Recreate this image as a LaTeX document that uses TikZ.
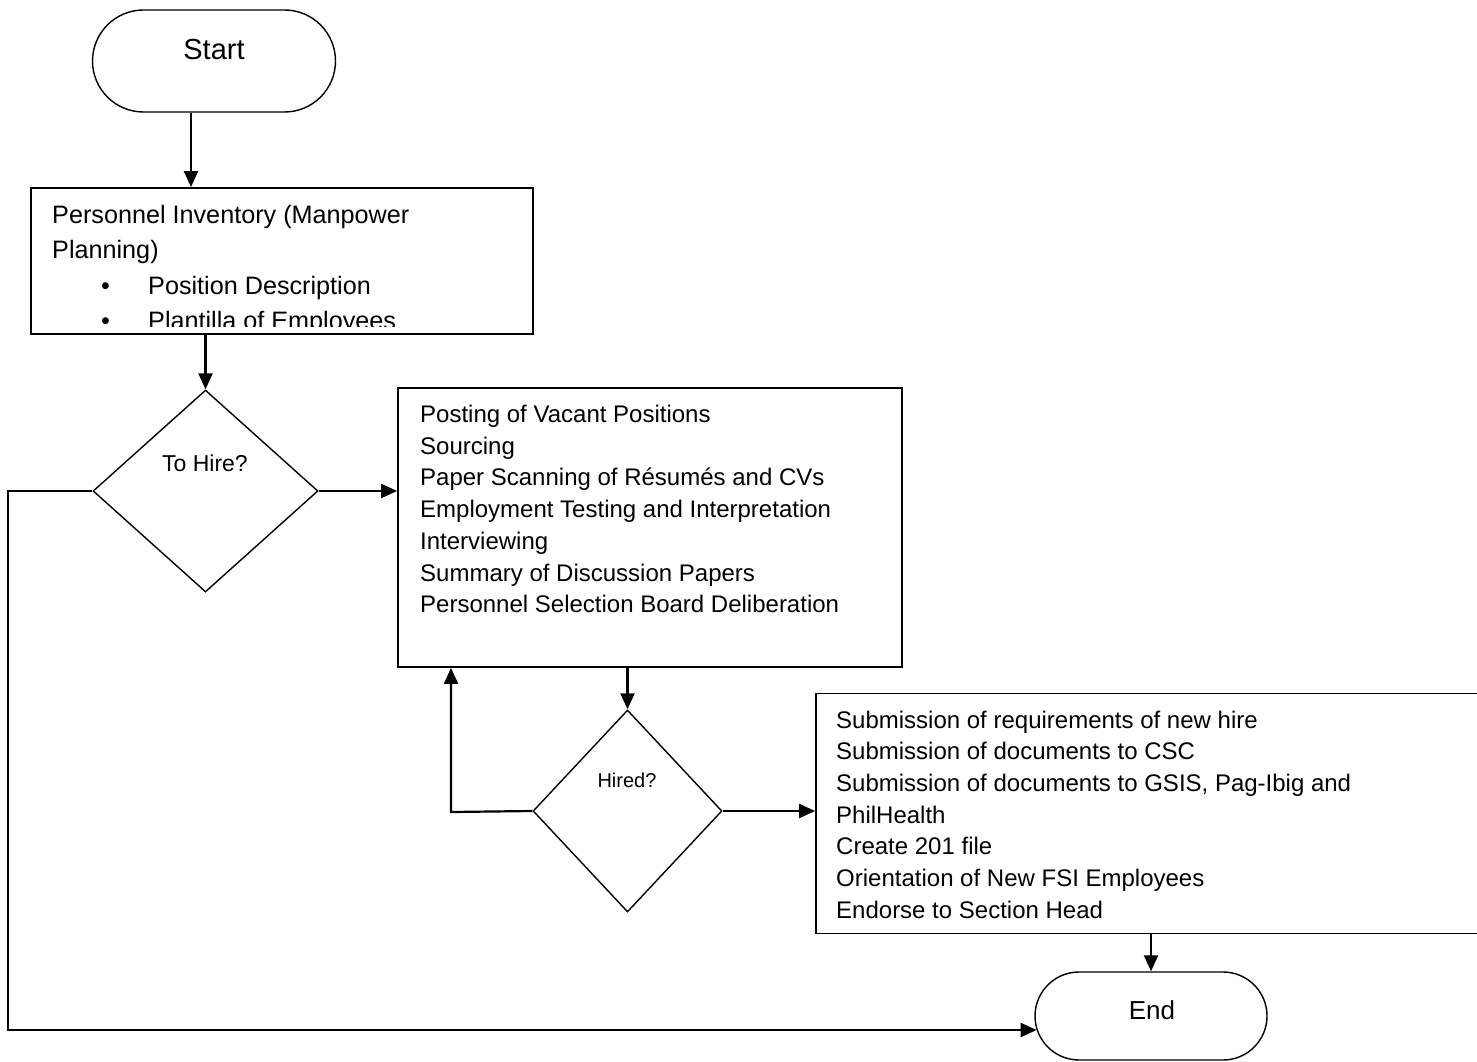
\documentclass[tikz,border=0pt]{standalone}
\usepackage{fontspec}
\setmainfont{Liberation Sans}
\usetikzlibrary{arrows.meta,shapes.geometric,shapes.misc,calc}
\begin{document}
\begin{tikzpicture}[x=1pt,y=-1pt,
  box/.style={draw,line width=1.8pt,inner sep=0pt},
  term/.style={draw,line width=1.4pt,rounded rectangle,inner sep=0pt},
  decision/.style={draw,line width=1.4pt,diamond,inner sep=0pt},
  arr/.style={line width=2.2pt,-{Triangle[length=16pt,width=14pt]}},
  txt/.style={inner sep=0pt,anchor=base west},
  ctxt/.style={inner sep=0pt,anchor=center},
]
\useasboundingbox (0,0) rectangle (1477,1062);

% terminals
\node[term,minimum width=243pt,minimum height=102pt] (start) at (214,61) {};
\node[ctxt,font=\fontsize{29}{34}\selectfont] (starttxt) at (214,50) {Start};
\node[term,minimum width=232pt,minimum height=88pt] (end) at (1151,1016) {};
\node[ctxt,font=\fontsize{26}{31}\selectfont] (endtxt) at (1152,1010) {End};

% manpower planning box (its text is cut off at the lower edge)
\node[box,minimum width=502pt,minimum height=146pt] (inv) at (282,261) {};
\begin{scope}[every node/.style={txt,font=\fontsize{25.2}{35}\selectfont}]
  \clip (31,189) rectangle (533,326);
  \node (p1) at (52,223.5) {Personnel Inventory (Manpower};
  \node (p2) at (52,258.5) {Planning)};
  \node (pb1) at (101,294) {\textbullet};
  \node (p3) at (148,294) {Position Description};
  \node (pb2) at (101,329) {\textbullet};
  \node (p4) at (148,329) {Plantilla of Employees};
\end{scope}

% decisions
\node[decision,minimum width=225pt,minimum height=202pt] (hire) at (205.5,491) {};
\node[ctxt,font=\fontsize{23}{28}\selectfont] (hiretxt) at (205,463) {To Hire?};
\node[decision,minimum width=189pt,minimum height=202pt] (hired) at (627.5,811) {};
\node[ctxt,font=\fontsize{20}{24}\selectfont] (hiredtxt) at (627,780) {Hired?};

% selection box
\node[box,minimum width=504pt,minimum height=279pt] (sel) at (650,527.5) {};
\begin{scope}[every node/.style={txt,font=\fontsize{24}{31}\selectfont}]
  \foreach \t [count=\i from 0] in {Posting of Vacant Positions,Sourcing,Paper Scanning of Résumés and CVs,Employment Testing and Interpretation,Interviewing,Summary of Discussion Papers,Personnel Selection Board Deliberation}
    \node (s\i) at (420,422.5+31.7*\i) {\t};
\end{scope}

% new hire box (runs past the right edge)
\node[box,minimum width=684pt,minimum height=240pt] (doc) at (1158,813.5) {};
\begin{scope}[every node/.style={txt,font=\fontsize{24}{31}\selectfont}]
  \foreach \t [count=\i from 0] in {Submission of requirements of new hire,Submission of documents to CSC,{Submission of documents to GSIS, Pag-Ibig and},PhilHealth,Create 201 file,Orientation of New FSI Employees,Endorse to Section Head}
    \node (d\i) at (836,728+31.7*\i) {\t};
\end{scope}

% connectors
\draw[arr] ([xshift=-23pt]start.south) -- ([xshift=-23pt]start.south |- inv.north);
\draw[arr] (hire.north |- inv.south) -- (hire.north);
\draw[arr] (hire.east) -- (hire.east -| sel.west);
\draw[arr] (hired.north |- sel.south) -- (hired.north);
\coordinate (backx) at (451,812);
\draw[arr] (hired.west) -- (backx) -- (backx |- sel.south);
\draw[arr] (hired.east) -- (hired.east -| doc.west);
\draw[arr] (end.north |- doc.south) -- (end.north);
\coordinate (lowleft) at (8,1030);
\draw[arr] (hire.west) -- (hire.west -| lowleft) -- (lowleft) -- ($(end.west |- lowleft)+(2.3,0)$);
\end{tikzpicture}
\end{document}
